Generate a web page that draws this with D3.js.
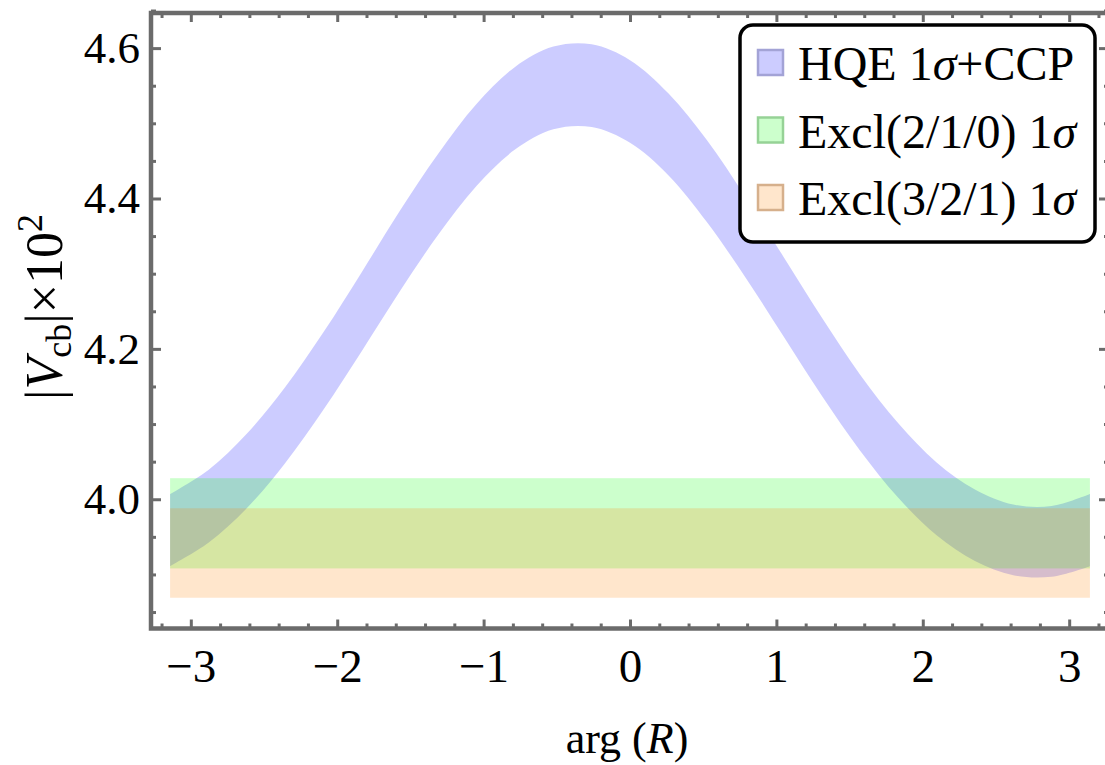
<!DOCTYPE html>
<html>
<head>
<meta charset="utf-8">
<script src="https://cdn.jsdelivr.net/npm/d3@7"></script>
<style>
body { margin: 0; background: #fff; }
svg { display: block; }
text { font-family: "Liberation Serif", "Times New Roman", serif; fill: #000; }
</style>
</head>
<body>
<svg id="chart" width="1105" height="765"></svg>
<script>
// arg(R) sample points (steps of pi/12) and the HQE 1sigma+CCP band edges (|Vcb| x 10^2)
var argR = [-3.1416, -2.8798, -2.6180, -2.3562, -2.0944, -1.8326, -1.5708, -1.3090, -1.0472, -0.7854, -0.5236, -0.2618,
            0, 0.2618, 0.5236, 0.7854, 1.0472, 1.3090, 1.5708, 1.8326, 2.0944, 2.3562, 2.6180, 2.8798, 3.1416];
var hqeUpper = [4.007, 4.039, 4.087, 4.149, 4.222, 4.302, 4.384, 4.460, 4.526, 4.575, 4.602, 4.605,
                4.584, 4.540, 4.478, 4.403, 4.323, 4.242, 4.166, 4.101, 4.049, 4.013, 3.993, 3.991, 4.007];
var hqeLower = [3.911, 3.942, 3.988, 4.048, 4.119, 4.197, 4.277, 4.352, 4.417, 4.465, 4.492, 4.495,
                4.474, 4.431, 4.369, 4.296, 4.217, 4.138, 4.065, 4.002, 3.952, 3.918, 3.899, 3.897, 3.911];

// horizontal exclusive bands [low, high], spanning -pi..pi
var bandRange = [-3.1416, 3.1416];
var excl210 = [3.908, 4.028];
var excl321 = [3.869, 3.988];

var xMajor = [-3, -2, -1, 0, 1, 2, 3];
var yMajor = [4.0, 4.2, 4.4, 4.6];

var legendNames = ['HQE 1', 'Excl(2/1/0) 1', 'Excl(3/2/1) 1'];
var legendTails = ['+CCP', '', ''];
var colors = ['#0000ff', '#00ff00', '#ff8000'];
var swatchStroke = ['#a3a3d6', '#96d296', '#d6b08c'];

var svg = d3.select('#chart');

var fLeft = 151, fRight = 1109, fTop = 13, fBottom = 628.5;

var x = d3.scaleLinear().domain([-3.272, 3.272]).range([fLeft, fRight]);
var y = d3.scaleLinear().domain([3.8281, 4.6467]).range([fBottom, fTop]);

var plot = svg.append('g');

// HQE band
var rows = argR.map(function(v, i) { return { x: v, lo: hqeLower[i], hi: hqeUpper[i] }; });
plot.append('path')
    .datum(rows)
    .attr('d', d3.area()
        .curve(d3.curveCatmullRom)
        .x(function(d) { return x(d.x); })
        .y0(function(d) { return y(d.lo); })
        .y1(function(d) { return y(d.hi); }))
    .attr('fill', colors[0])
    .attr('fill-opacity', 0.2);

[excl210, excl321].forEach(function(b, i) {
    plot.append('rect')
        .attr('x', x(bandRange[0]))
        .attr('width', x(bandRange[1]) - x(bandRange[0]))
        .attr('y', y(b[1]))
        .attr('height', y(b[0]) - y(b[1]))
        .attr('fill', colors[i + 1])
        .attr('fill-opacity', 0.2);
});

// frame + ticks
var frameColor = '#6b6b6b';
var xMinor = d3.range(-3.2, 3.21, 0.2).filter(function(v) { return Math.abs(v - Math.round(v)) > 0.01; });
var yMinor = d3.range(3.85, 4.66, 0.05).filter(function(v) { return Math.abs(v * 5 - Math.round(v * 5)) > 0.01; });

function styleAxis(g) {
    g.select('.domain').remove();
    g.selectAll('line').attr('stroke', frameColor).attr('stroke-width', 3);
}

svg.append('g').attr('transform', 'translate(0,' + fBottom + ')')
    .call(d3.axisBottom(x).tickValues(xMajor).tickSize(-9).tickPadding(20).tickFormat(d3.format('d')))
    .call(styleAxis)
    .selectAll('text').attr('font-size', 47).attr('font-family', 'Liberation Serif').attr('fill', '#000');
svg.append('g').attr('transform', 'translate(0,' + fBottom + ')')
    .call(d3.axisBottom(x).tickValues(xMinor).tickSize(-5).tickFormat(''))
    .call(styleAxis);
svg.append('g').attr('transform', 'translate(0,' + fTop + ')')
    .call(d3.axisTop(x).tickValues(xMajor).tickSize(-9).tickFormat(''))
    .call(styleAxis);
svg.append('g').attr('transform', 'translate(0,' + fTop + ')')
    .call(d3.axisTop(x).tickValues(xMinor).tickSize(-5).tickFormat(''))
    .call(styleAxis);

svg.append('g').attr('transform', 'translate(' + fLeft + ',0)')
    .call(d3.axisLeft(y).tickValues(yMajor).tickSize(-10).tickPadding(11).tickFormat(d3.format('.1f')))
    .call(styleAxis)
    .selectAll('text').attr('font-size', 45).attr('font-family', 'Liberation Serif').attr('fill', '#000');
svg.append('g').attr('transform', 'translate(' + fLeft + ',0)')
    .call(d3.axisLeft(y).tickValues(yMinor).tickSize(-5).tickFormat(''))
    .call(styleAxis);
svg.append('g').attr('transform', 'translate(' + fRight + ',0)')
    .call(d3.axisRight(y).tickValues(yMajor).tickSize(-10).tickFormat(''))
    .call(styleAxis);
svg.append('g').attr('transform', 'translate(' + fRight + ',0)')
    .call(d3.axisRight(y).tickValues(yMinor).tickSize(-5).tickFormat(''))
    .call(styleAxis);

svg.append('rect')
    .attr('x', fLeft).attr('y', fTop)
    .attr('width', fRight - fLeft).attr('height', fBottom - fTop)
    .attr('fill', 'none').attr('stroke', frameColor).attr('stroke-width', 4.5);

// axis titles
var xt = svg.append('text')
    .attr('x', (fLeft + fRight) / 2 - 3).attr('y', 753)
    .attr('text-anchor', 'middle').attr('font-size', 44);
xt.append('tspan').text('arg (');
xt.append('tspan').attr('font-style', 'italic').text('R');
xt.append('tspan').text(')');

var yt = svg.append('text')
    .attr('transform', 'translate(62,307) rotate(-90)')
    .attr('text-anchor', 'middle').attr('font-size', 52);
yt.append('tspan').text('|');
yt.append('tspan').attr('font-style', 'italic').text('V');
yt.append('tspan').attr('font-size', 36).attr('dy', 9).text('cb');
yt.append('tspan').attr('dy', -9).text('|×10');
yt.append('tspan').attr('font-size', 36).attr('dy', -20).text('2');

// legend
var lg = svg.append('g');
lg.append('rect')
    .attr('x', 740).attr('y', 25).attr('width', 355).attr('height', 217)
    .attr('rx', 13).attr('ry', 13)
    .attr('fill', '#fff').attr('stroke', '#000').attr('stroke-width', 3.5);

legendNames.forEach(function(name, i) {
    var by = 80 + i * 67.5;
    lg.append('rect')
        .attr('x', 758).attr('y', by - 30).attr('width', 25).attr('height', 25)
        .attr('fill', d3.interpolateRgb('#fff', colors[i])(0.2))
        .attr('stroke', swatchStroke[i]).attr('stroke-width', 2.5);
    var t = lg.append('text').attr('x', 798).attr('y', by).attr('font-size', 48);
    t.append('tspan').text(name);
    t.append('tspan').attr('font-style', 'italic').text('σ');
    if (legendTails[i]) t.append('tspan').text(legendTails[i]);
});
</script>
</body>
</html>
